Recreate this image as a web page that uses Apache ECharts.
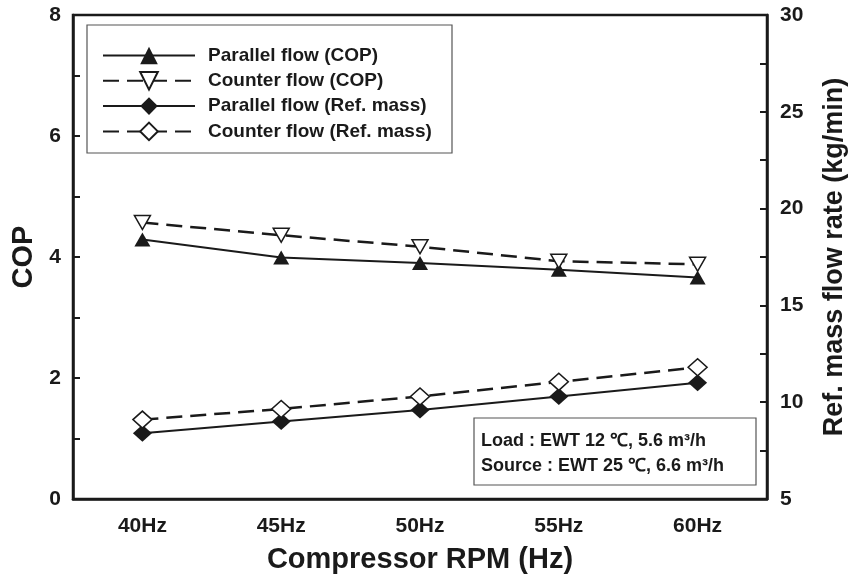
<!DOCTYPE html>
<html>
<head>
<meta charset="utf-8">
<title>COP vs compressor RPM</title>
<script src="https://cdn.jsdelivr.net/npm/echarts@6/dist/echarts.min.js"></script>
<style>
    html,body{margin:0;padding:0;background:#fff;}
    #main{width:848px;height:579px;}
</style>
</head>
<body>
<div id="main"></div>
<script>
    // data
    var categories = ['40Hz', '45Hz', '50Hz', '55Hz', '60Hz'];
    var parallelCop = [4.29, 3.99, 3.90, 3.79, 3.66];
    var counterCop = [4.57, 4.36, 4.17, 3.93, 3.88];
    var parallelMass = [8.4, 9.0, 9.6, 10.3, 11.0];
    var counterMass = [9.1, 9.65, 10.3, 11.05, 11.8];
    var copTicks = [0, 2, 4, 6, 8];
    var massTicks = [5, 10, 15, 20, 25, 30];

    var font = "'Liberation Sans', Arial, sans-serif";
    var ink = '#1a1a1a';

    var chart = echarts.init(document.getElementById('main'));

    function lineSeries(name, data, yIdx, symbol, rotate, size, filled, dashed) {
        return {
            name: name,
            type: 'line',
            yAxisIndex: yIdx,
            data: data,
            symbol: symbol,
            symbolRotate: rotate,
            symbolSize: size,
            showAllSymbol: true,
            z: dashed ? 3 : 2,
            lineStyle: {
                color: ink,
                width: dashed ? 2.5 : 2,
                type: dashed ? [16, 8] : 'solid'
            },
            itemStyle: {
                color: filled ? ink : '#fff',
                borderColor: ink,
                borderWidth: filled ? 0 : 1.5
            },
            animation: false
        };
    }

    chart.setOption({
        animation: false,
        textStyle: {fontFamily: font},
        grid: {
            left: 73,
            right: 81,
            top: 15,
            bottom: 80,
            outerBoundsMode: 'none',
            containLabel: false,
            show: true,
            borderColor: ink,
            borderWidth: 2.5
        },
        legend: {
            orient: 'vertical',
            left: 97,
            top: 41,
            itemWidth: 92,
            itemHeight: 22,
            itemGap: 6,
            selectedMode: false,
            textStyle: {
                fontFamily: font,
                fontWeight: 'bold',
                fontSize: 19,
                color: ink,
                padding: [0, 0, 0, 8]
            },
            data: ['Parallel flow (COP)', 'Counter flow (COP)', 'Parallel flow (Ref. mass)', 'Counter flow (Ref. mass)']
        },
        xAxis: {
            type: 'category',
            data: categories,
            boundaryGap: true,
            name: 'Compressor RPM (Hz)',
            nameLocation: 'middle',
            nameGap: 46,
            nameTextStyle: {fontFamily: font, fontWeight: 'bold', fontSize: 29, color: ink},
            axisLine: {lineStyle: {color: ink, width: 2.5}},
            axisTick: {inside: true, alignWithLabel: true, length: 7, lineStyle: {color: ink, width: 2}},
            axisLabel: {fontFamily: font, fontWeight: 'bold', fontSize: 21, color: ink, margin: 17},
            splitLine: {show: false}
        },
        yAxis: [
            {
                type: 'value',
                min: 0,
                max: 8,
                interval: 1,
                position: 'left',
                name: 'COP',
                nameLocation: 'middle',
                nameGap: 33,
                nameRotate: 90,
                nameTextStyle: {fontFamily: font, fontWeight: 'bold', fontSize: 29, color: ink},
                axisLine: {show: true, lineStyle: {color: ink, width: 2.5}},
                axisTick: {show: true, inside: true, length: 7, lineStyle: {color: ink, width: 2}},
                axisLabel: {
                    fontFamily: font, fontWeight: 'bold', fontSize: 21, color: ink, margin: 12,
                    formatter: function (v) { return copTicks.indexOf(v) >= 0 ? String(v) : ''; }
                },
                splitLine: {show: false}
            },
            {
                type: 'value',
                min: 5,
                max: 30,
                interval: 2.5,
                position: 'right',
                name: 'Ref. mass flow rate (kg/min)',
                nameLocation: 'middle',
                nameGap: 54,
                nameRotate: 90,
                nameTextStyle: {fontFamily: font, fontWeight: 'bold', fontSize: 27, color: ink},
                axisLine: {show: true, lineStyle: {color: ink, width: 2.5}},
                axisTick: {show: true, inside: true, length: 7, lineStyle: {color: ink, width: 2}},
                axisLabel: {
                    fontFamily: font, fontWeight: 'bold', fontSize: 21, color: ink, margin: 13,
                    formatter: function (v) { return massTicks.indexOf(v) >= 0 ? String(v) : ''; }
                },
                splitLine: {show: false}
            }
        ],
        graphic: [
            {
                // legend frame
                type: 'rect',
                shape: {x: 87, y: 25, width: 365, height: 128},
                style: {fill: 'none', stroke: '#555', lineWidth: 1.2},
                z: 10
            },
            {
                // test conditions box
                type: 'rect',
                shape: {x: 474, y: 418, width: 282, height: 67},
                style: {fill: '#fff', stroke: '#555', lineWidth: 1.2},
                z: 10
            },
            {
                type: 'text',
                left: 481,
                top: 429,
                z: 11,
                style: {
                    text: 'Load : EWT 12 \u2103, 5.6 m\u00b3/h\nSource : EWT 25 \u2103, 6.6 m\u00b3/h',
                    font: 'bold 18px ' + font,
                    fill: ink,
                    lineHeight: 25
                }
            }
        ],
        series: [
            lineSeries('Parallel flow (COP)', parallelCop, 0, 'triangle', 0, [16, 14], true, false),
            lineSeries('Counter flow (COP)', counterCop, 0, 'triangle', 180, [16, 14], false, true),
            lineSeries('Parallel flow (Ref. mass)', parallelMass, 1, 'diamond', 0, [19, 17], true, false),
            lineSeries('Counter flow (Ref. mass)', counterMass, 1, 'diamond', 0, [19, 17], false, true)
        ]
    });
</script>
</body>
</html>
